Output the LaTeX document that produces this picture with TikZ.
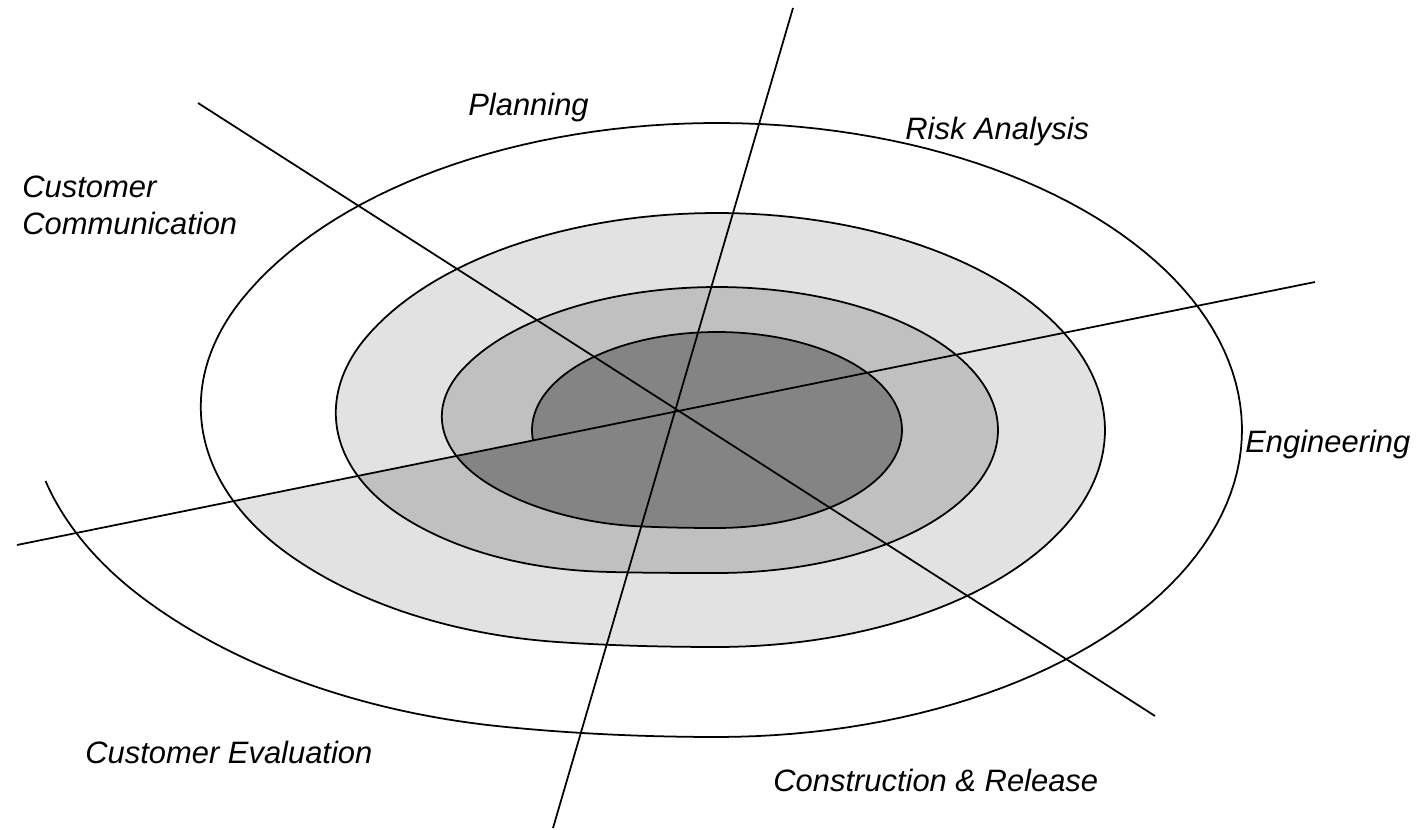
\documentclass[tikz,border=0pt]{standalone}
\usepackage{fontspec}
\setmainfont{Liberation Sans}
\usepackage{tikz}
\usetikzlibrary{positioning}
\definecolor{BandLight}{HTML}{E2E2E2}
\definecolor{BandMid}{HTML}{C0C0C0}
\definecolor{BandDark}{HTML}{848484}

\begin{document}
\begin{tikzpicture}[
  x=0.02cm,y=-0.02cm,samples=120,
  declare function={
    spx(\a,\r)=717+\r*cos(\a);
    spy(\a,\s)=430+\s*sin(\a);
    ease(\uu)=ifthenelse(\uu<0.2,3.7037*\uu*\uu,ifthenelse(\uu>0.55,1-1.6461*(1-\uu)*(1-\uu),1.4815*(\uu-0.1)));
    stepr(\a,\p,\q)=\p+(\q-\p)*ease((\a-90)/115);
  },
  spiral/.style={draw=black,line width=1pt,line join=round},
  axisline/.style={draw=black,line width=1pt},
  lbl/.style={anchor=base west,inner sep=0pt,align=left,
    font=\itshape\fontsize{17.6}{21.6}\selectfont}
]
\fill[white] (0,0) rectangle (1419,830);
\useasboundingbox (0,0) rectangle (1419,830);

% bands, each closed along the left quadrant line
\fill[BandLight] plot[domain=166.96:205] ({spx(\x,stepr(\x,281,388))},{spy(\x,stepr(\x,143,217))})
  -- plot[domain=205:450] ({spx(\x,388)},{spy(\x,217)})
  -- plot[domain=90:165.79] ({spx(\x,stepr(\x,388,525))},{spy(\x,stepr(\x,217,307))}) -- cycle;
\fill[BandMid] plot[domain=168.97:205] ({spx(\x,stepr(\x,185,281))},{spy(\x,stepr(\x,98,143))})
  -- plot[domain=205:450] ({spx(\x,281)},{spy(\x,143)})
  -- plot[domain=90:166.96] ({spx(\x,stepr(\x,281,388))},{spy(\x,stepr(\x,143,217))}) -- cycle;
\fill[BandDark] plot[domain=174:450] ({spx(\x,185)},{spy(\x,98)})
  -- plot[domain=90:168.97] ({spx(\x,stepr(\x,185,281))},{spy(\x,stepr(\x,98,143))}) -- cycle;

% the spiral, inside out
\draw[spiral] plot[domain=174:450] ({spx(\x,185)},{spy(\x,98)})
  -- plot[domain=90:205] ({spx(\x,stepr(\x,185,281))},{spy(\x,stepr(\x,98,143))})
  -- plot[domain=205:450] ({spx(\x,281)},{spy(\x,143)})
  -- plot[domain=90:205] ({spx(\x,stepr(\x,281,388))},{spy(\x,stepr(\x,143,217))})
  -- plot[domain=205:450] ({spx(\x,388)},{spy(\x,217)})
  -- plot[domain=90:205] ({spx(\x,stepr(\x,388,525))},{spy(\x,stepr(\x,217,307))})
  -- plot[domain=205:450] ({spx(\x,525)},{spy(\x,307)})
  -- plot[domain=90:172.6] ({spx(\x,stepr(\x,525,700))},{spy(\x,stepr(\x,307,409.4))});

% quadrant lines
\coordinate (topend) at (793,8);
\coordinate (botend) at (553,828);
\coordinate (nwend) at (198,103);
\coordinate (seend) at (1155,716);
\coordinate (wend) at (17,545);
\coordinate (eend) at (1315,282);
\draw[axisline] (topend) -- (botend);
\draw[axisline] (nwend) -- (seend);
\draw[axisline] (wend) -- (eend);

\node[lbl] (plan) at (468,116) {Planning};
\node[lbl] (risk) at (905,140) {Risk Analysis};
\node[lbl] (comm) at (22,235) {Customer\\Communication};
\node[lbl] (eng) at (1245,453) {Engineering};
\node[lbl] (eval) at (85,763) {Customer Evaluation};
\node[lbl] (build) at (773,791) {Construction \& Release};
\end{tikzpicture}
\end{document}
